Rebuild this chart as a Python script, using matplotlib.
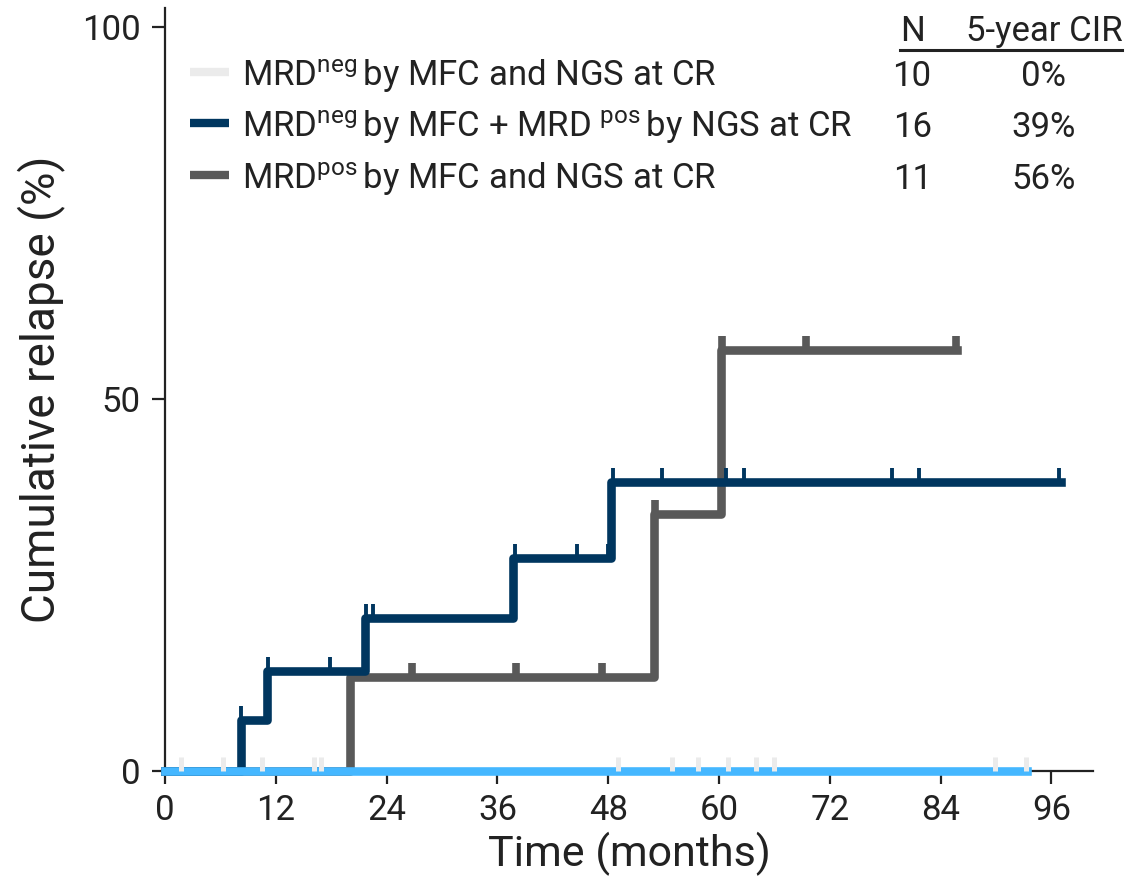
import matplotlib
matplotlib.use("Agg")
import matplotlib.pyplot as plt
import numpy as np

plt.rcParams['font.family'] = ['Roboto', 'DejaVu Sans']
plt.rcParams['mathtext.fontset'] = 'custom'
plt.rcParams['mathtext.rm'] = 'Roboto'
plt.rcParams['mathtext.it'] = 'Roboto:italic'
plt.rcParams['mathtext.bf'] = 'Roboto:bold'

# group labels, N and 5-year CIR
labels = [r"MRD$^{\mathrm{neg}}\,$by MFC and NGS at CR",
          r"MRD$^{\mathrm{neg}}\,$by MFC + MRD $^{\mathrm{pos}}\,$by NGS at CR",
          r"MRD$^{\mathrm{pos}}\,$by MFC and NGS at CR"]
n_pts = ["10", "16", "11"]
cir5 = ["0%", "39%", "56%"]

# step curves (months, cumulative relapse %)
neg_t = [0, 93.4]
neg_y = [0, 0]
neg_cens = [1.7, 6.3, 10.5, 16.1, 16.9, 49.1, 54.9, 57.7, 61.0, 64.0, 65.9, 89.9, 93.2]

mix_t = [0, 8.2, 11.0, 21.7, 37.7, 48.3, 97.0]
mix_y = [0, 6.8, 13.4, 20.6, 28.6, 38.9, 38.9]
mix_cens = [8.2, 11.2, 17.9, 21.8, 22.5, 37.9, 44.6, 48.0, 48.5, 53.8, 60.8, 62.7, 78.7, 81.6, 96.8]

pos_t = [0, 20.0, 53.0, 60.2, 85.8]
pos_y = [0, 12.6, 34.5, 56.6, 56.6]
pos_cens = [26.7, 38.0, 47.3, 53.1, 60.3, 69.4, 85.7]

c_neg_line = "#45B7FF"
c_neg = "#EBEBEB"
c_mix = "#00365F"
c_pos = "#595959"


def step_val(t, y, c):
    idx = np.searchsorted(t, c, side="right") - 1
    return np.array(y)[idx]


fig = plt.figure(figsize=(11.43, 8.9), dpi=100)
ax = fig.add_axes([0.1444, 0.134, 0.8119, 0.857])

lw = 6.2
ax.step(pos_t, pos_y, where="post", color=c_pos, lw=lw, clip_on=False, zorder=3)
ax.plot(pos_cens, step_val(pos_t, pos_y, pos_cens), ls="none", marker=2,
        ms=10, mew=5.5, color=c_pos, clip_on=False, zorder=3)
ax.step(mix_t, mix_y, where="post", color=c_mix, lw=lw, clip_on=False, zorder=4)
ax.plot(mix_cens, step_val(mix_t, mix_y, mix_cens), ls="none", marker=2,
        ms=10, mew=2.8, color=c_mix, clip_on=False, zorder=4)
ax.step(neg_t, neg_y, where="post", color=c_neg_line, lw=lw, clip_on=False, zorder=5)
ax.plot(neg_cens, step_val(neg_t, neg_y, neg_cens), ls="none", marker=2,
        ms=10, mew=3.6, color=c_neg, clip_on=False, zorder=6)

ax.set_xlim(0, 100.5)
ax.set_ylim(0, 102.6)
ax.set_xticks(np.arange(0, 97, 12))
ax.set_yticks([0, 50, 100])
for s in ["top", "right"]:
    ax.spines[s].set_visible(False)
for s in ["left", "bottom"]:
    ax.spines[s].set_linewidth(1.6)
    ax.spines[s].set_color("#222222")
ax.tick_params(axis="both", length=9.5, width=1.6, color="#222222",
               labelsize=25, labelcolor="#222222")
ax.tick_params(axis="y", pad=8)
ax.tick_params(axis="x", pad=7)
ax.set_xlabel("Time (months)", fontsize=31, color="#222222", labelpad=4)
ax.set_ylabel("Cumulative relapse (%)", fontsize=33, color="#222222", labelpad=12)

# legend table
hand_y = [94.0, 87.1, 80.1]
base_y = [92.1, 85.2, 78.3]
cols = [c_neg, c_mix, c_pos]
fs = 25
for i in range(3):
    ax.plot([2.7, 6.9], [hand_y[i], hand_y[i]], color=cols[i], lw=6.0,
            solid_capstyle="butt", clip_on=False)
    ax.text(8.3, base_y[i], labels[i], fontsize=fs, color="#222222",
            va="baseline", ha="left")
    ax.text(80.9, base_y[i], n_pts[i], fontsize=fs, color="#222222",
            va="baseline", ha="center")
    ax.text(95.1, base_y[i], cir5[i], fontsize=fs, color="#222222",
            va="baseline", ha="center")
ax.text(80.9, 98.2, "N", fontsize=fs, color="#222222", va="baseline", ha="center")
ax.text(95.2, 98.2, "5-year CIR", fontsize=fs, color="#222222", va="baseline", ha="center")
ax.plot([79.6, 103.6], [97.0, 97.0], color="#222222", lw=2.2, clip_on=False)

fig.savefig("out.png", dpi=100)
